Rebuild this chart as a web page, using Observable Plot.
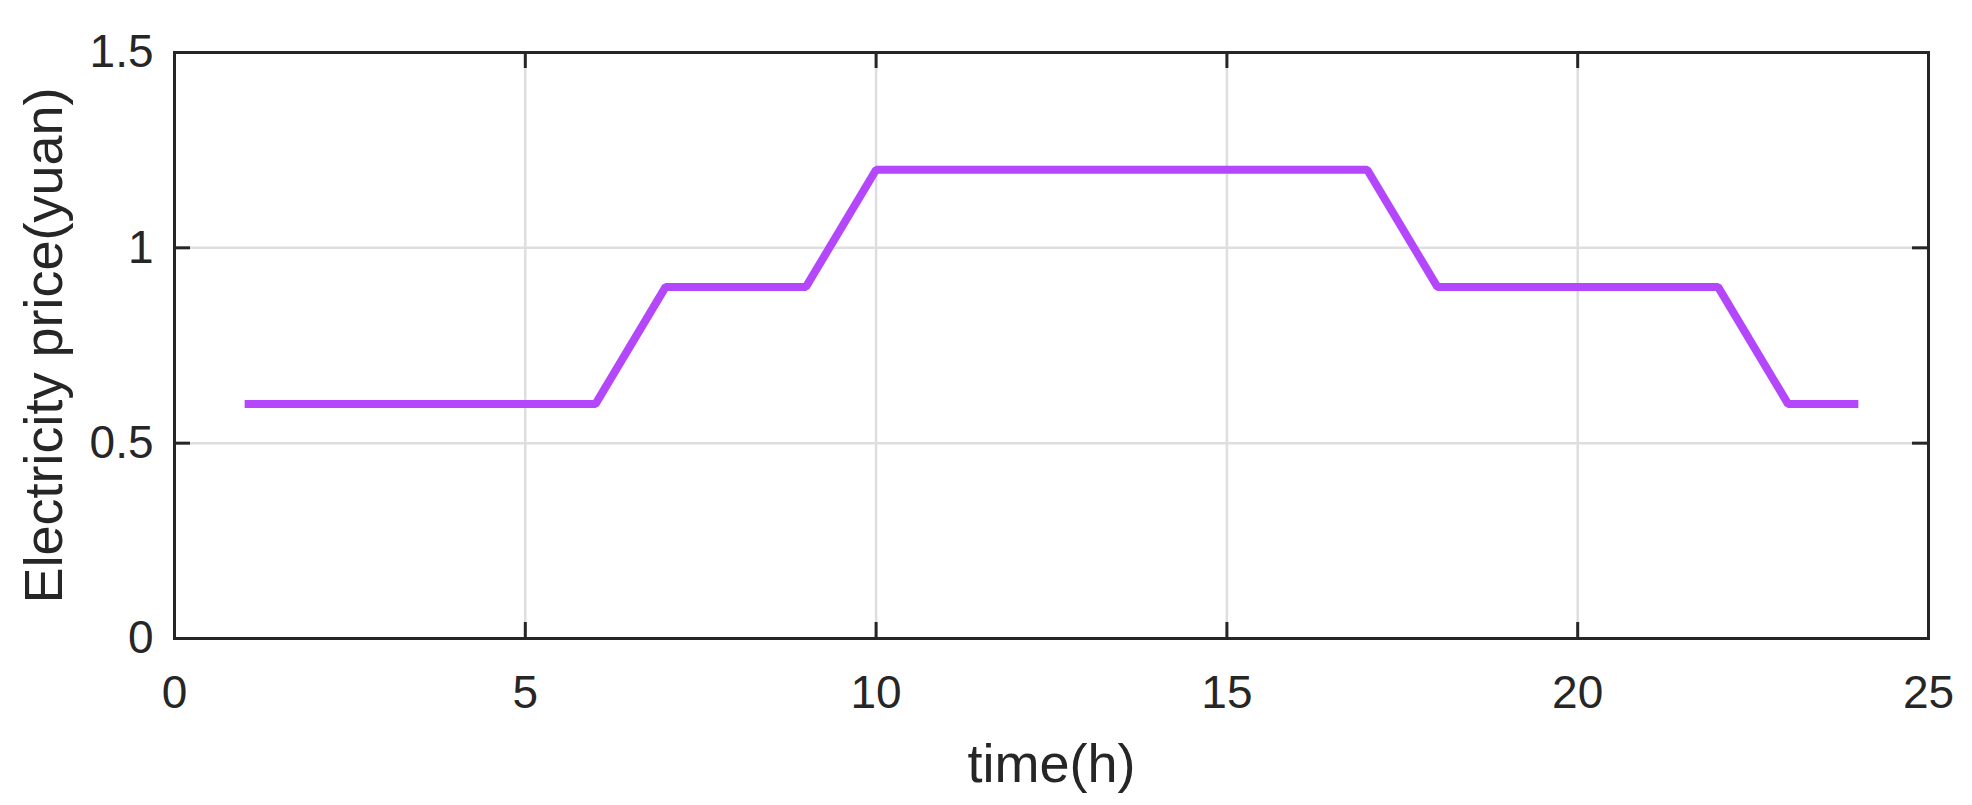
<!DOCTYPE html>
<html>
<head>
<meta charset="utf-8">
<script src="https://cdn.jsdelivr.net/npm/d3@7"></script>
<script src="https://cdn.jsdelivr.net/npm/@observablehq/plot@0.6"></script>
<style>
  html, body { margin: 0; padding: 0; background: #fff; }
  svg { font-family: "Liberation Sans", Arial, sans-serif; }
</style>
</head>
<body>
<div id="chart"></div>
<script>
const hours = [1,2,3,4,5,6,7,8,9,10,11,12,13,14,15,16,17,18,19,20,21,22,23,24];
const price = [0.6,0.6,0.6,0.6,0.6,0.6,0.9,0.9,0.9,1.2,1.2,1.2,1.2,1.2,1.2,1.2,1.2,0.9,0.9,0.9,0.9,0.9,0.6,0.6];
const xTicks = [0,5,10,15,20,25];
const yTicks = [0,0.5,1,1.5];
const xLabel = "time(h)";
const yLabel = "Electricity price(yuan)";

const data = hours.map((h, i) => ({hour: h, price: price[i]}));

const W = 1972, H = 805;
const mL = 174, mR = 44, mT = 52, mB = 167;
const fw = W - mL - mR, fh = H - mT - mB;
const tickLen = 16;
const ink = "#262626";

const chart = Plot.plot({
  width: W,
  height: H,
  marginLeft: mL,
  marginRight: mR,
  marginTop: mT,
  marginBottom: mB,
  style: {fontSize: "46px", color: ink, fontFamily: "Liberation Sans, Arial, sans-serif", background: "#fff"},
  x: {domain: [0, 25]},
  y: {domain: [0, 1.5]},
  marks: [
    Plot.gridX(xTicks.slice(1, -1), {stroke: "#dedede", strokeOpacity: 1, strokeWidth: 2.5}),
    Plot.gridY(yTicks.slice(1, -1), {stroke: "#dedede", strokeOpacity: 1, strokeWidth: 2.5}),
    Plot.line(data, {x: "hour", y: "price", stroke: "#b446fc", strokeWidth: 8, strokeLinejoin: "miter", strokeLinecap: "butt"}),
    Plot.ruleX(xTicks, {stroke: ink, strokeWidth: 3, insetTop: fh - tickLen}),
    Plot.ruleX(xTicks, {stroke: ink, strokeWidth: 3, insetBottom: fh - tickLen}),
    Plot.ruleY(yTicks, {stroke: ink, strokeWidth: 3, insetRight: fw - tickLen}),
    Plot.ruleY(yTicks, {stroke: ink, strokeWidth: 3, insetLeft: fw - tickLen}),
    Plot.frame({stroke: ink, strokeWidth: 3}),
    Plot.axisX({ticks: xTicks, tickSize: 0, tickPadding: 37, fontSize: 46, fill: ink,
      label: xLabel, labelAnchor: "center", labelArrow: "none", labelOffset: 143}),
    Plot.axisY({ticks: yTicks, tickSize: 0, tickPadding: 21, fontSize: 46, fill: ink,
      tickFormat: d => String(d),
      label: yLabel, labelAnchor: "center", labelArrow: "none", labelOffset: 151})
  ]
});
// axis titles slightly larger than tick labels
chart.querySelectorAll("g[aria-label='x-axis label'] text, g[aria-label='y-axis label'] text").forEach(t => t.setAttribute("font-size", "54"));
document.getElementById("chart").appendChild(chart);
</script>
</body>
</html>
